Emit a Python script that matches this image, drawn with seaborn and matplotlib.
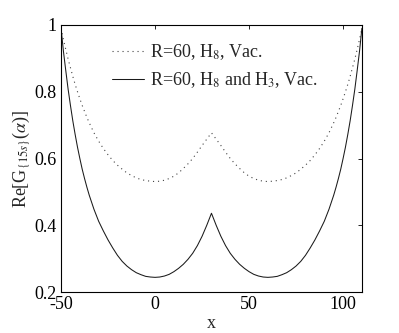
import numpy as np
import pandas as pd
import matplotlib
matplotlib.use("Agg")
import matplotlib.pyplot as plt
import seaborn as sns

# x samples, denser where the curves are steep
x_vals = [-50, -48.75, -47.5, -46.25, -45, -43.75, -42.5, -41.25, -40, -38.75,
          -37.5, -36.25, -35, -32.5, -30, -27.5, -25, -22.5, -20, -17.5, -15,
          -12.5, -10, -7.5, -5, -2.5, 0, 2.5, 5, 7.5, 10, 12.5, 15, 17.5, 20,
          22.5, 25, 27.5, 30, 32.5, 35, 37.5, 40, 42.5, 45, 47.5, 50, 52.5, 55,
          57.5, 60, 62.5, 65, 67.5, 70, 72.5, 75, 77.5, 80, 82.5, 85, 87.5, 90,
          92.5, 95, 96.25, 97.5, 98.75, 100, 101.25, 102.5, 103.75, 105, 106.25,
          107.5, 108.75, 110]

# R=60, H8, Vac. (dotted)
h8_vals = [0.99, 0.957, 0.927, 0.898, 0.872, 0.846, 0.822, 0.800, 0.779, 0.759,
           0.741, 0.723, 0.707, 0.677, 0.652, 0.630, 0.611, 0.594, 0.580, 0.568,
           0.557, 0.549, 0.542, 0.537, 0.534, 0.532, 0.531, 0.532, 0.535, 0.540,
           0.547, 0.557, 0.570, 0.584, 0.600, 0.619, 0.639, 0.658, 0.677, 0.658,
           0.639, 0.619, 0.600, 0.584, 0.570, 0.557, 0.547, 0.540, 0.535, 0.532,
           0.531, 0.532, 0.534, 0.537, 0.542, 0.549, 0.557, 0.568, 0.580, 0.594,
           0.611, 0.630, 0.652, 0.677, 0.707, 0.723, 0.741, 0.759, 0.779, 0.800,
           0.822, 0.846, 0.872, 0.898, 0.927, 0.957, 0.99]

# R=60, H8 and H3, Vac. (solid)
h8h3_vals = [0.99, 0.922, 0.864, 0.808, 0.759, 0.713, 0.672, 0.634, 0.600, 0.568,
             0.540, 0.514, 0.490, 0.448, 0.412, 0.383, 0.356, 0.332, 0.310, 0.292,
             0.278, 0.267, 0.258, 0.252, 0.247, 0.245, 0.244, 0.245, 0.248, 0.253,
             0.261, 0.271, 0.283, 0.298, 0.316, 0.339, 0.367, 0.400, 0.436, 0.400,
             0.367, 0.339, 0.316, 0.298, 0.283, 0.271, 0.261, 0.253, 0.248, 0.245,
             0.244, 0.245, 0.247, 0.252, 0.258, 0.267, 0.278, 0.292, 0.310, 0.332,
             0.356, 0.383, 0.412, 0.448, 0.490, 0.514, 0.540, 0.568, 0.600, 0.634,
             0.672, 0.713, 0.759, 0.808, 0.864, 0.922, 0.99]

labels = ["R=60, H$_8$, Vac.", "R=60, H$_8$ and H$_3$, Vac."]
x_ticks = [-50, 0, 50, 100]
x_ticklabels = ["-50", "0", "50", "100"]
y_ticks = [0.2, 0.4, 0.6, 0.8, 1.0]
y_ticklabels = ["0.2", "0.4", "0.6", "0.8", "1"]

sns.set_style("white")
plt.rcParams["font.family"] = ["Liberation Serif", "DejaVu Serif"]
plt.rcParams["mathtext.fontset"] = "stix"

df = pd.DataFrame({"x": x_vals, "h8": h8_vals, "h8h3": h8h3_vals})

fig = plt.figure(figsize=(3.99, 3.33), dpi=100)
ax = fig.add_axes([0.153, 0.123, 0.754, 0.802])

sns.lineplot(data=df, x="x", y="h8", ax=ax, color="#444444", linewidth=0.8,
             linestyle=(0, (1, 3.5)), label=labels[0])
sns.lineplot(data=df, x="x", y="h8h3", ax=ax, color="#1a1a1a", linewidth=0.75,
             label=labels[1])

ax.set_xlim(-50, 110)
ax.set_ylim(0.2, 1)
ax.set_xticks(x_ticks)
ax.set_xticklabels(x_ticklabels)
ax.set_yticks(y_ticks)
ax.set_yticklabels(y_ticklabels)
ax.tick_params(direction="in", length=3, width=0.6, top=True, right=True,
               labelsize=13, pad=3, colors="black")
for s in ax.spines.values():
    s.set_color("black")
    s.set_linewidth(0.8)

ax.set_xlabel("x", fontsize=13, labelpad=1)
ax.set_ylabel(r"Re[G$_{\{15s\}}$($\alpha$)]", fontsize=13, labelpad=2)

ax.legend(loc="upper left", bbox_to_anchor=(0.115, 0.995), frameon=False,
          fontsize=13, handlelength=1.8, handletextpad=0.3, labelspacing=0.45)

fig.savefig("out.png", dpi=100)
